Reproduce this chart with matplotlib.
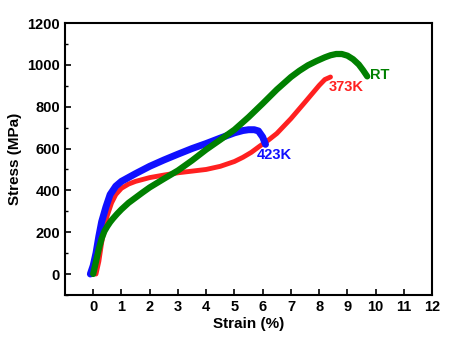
import matplotlib.pyplot as plt

plt.rcParams["font.family"] = ["Liberation Sans", "DejaVu Sans"]
plt.rcParams["font.weight"] = "bold"

# RT
rt_strain = [0.0, 0.1, 0.2, 0.3, 0.4, 0.5, 0.6, 0.7, 0.85, 1.0, 1.25, 1.5, 1.75, 2.0, 2.5,
             3.0, 3.5, 4.0, 4.5, 5.0, 5.5, 6.0, 6.5, 7.0, 7.3, 7.6, 7.9, 8.2, 8.4, 8.6,
             8.8, 9.0, 9.2, 9.4, 9.55, 9.7]
rt_stress = [0, 60, 120, 170, 205, 228, 248, 265, 288, 309, 340, 365, 390, 414, 455,
             495, 543, 595, 642, 690, 750, 815, 882, 942, 972, 998, 1018, 1036, 1046, 1052,
             1052, 1044, 1027, 1002, 975, 945]

# 373K
k373_strain = [0.1, 0.2, 0.3, 0.4, 0.5, 0.65, 0.8, 1.0, 1.25, 1.5, 2.0, 2.5, 3.0, 3.5, 4.0,
               4.5, 5.0, 5.3, 5.6, 5.9, 6.2, 6.5, 7.0, 7.5, 8.0, 8.2, 8.4]
k373_stress = [0, 60, 150, 220, 280, 340, 380, 410, 430, 443, 461, 473, 484, 492, 500,
               515, 538, 558, 582, 612, 640, 672, 743, 822, 902, 930, 942]

# 423K
k423_strain = [-0.1, 0.0, 0.1, 0.2, 0.3, 0.45, 0.6, 0.8, 1.0, 1.5, 2.0, 2.5, 3.0, 3.5,
               4.0, 4.5, 5.0, 5.3, 5.5, 5.7, 5.85, 6.0, 6.1]
k423_stress = [0, 40, 100, 180, 250, 320, 380, 420, 443, 480, 515, 545, 573, 600,
               624, 650, 675, 686, 690, 690, 684, 655, 620]

fig = plt.figure(figsize=(4.54, 3.39), dpi=100)
ax = fig.add_axes([0.143, 0.130, 0.809, 0.802])

ax.plot(k373_strain, k373_stress, color="#ff2020", lw=3.5, solid_capstyle="round",
        solid_joinstyle="round")
ax.plot(k423_strain, k423_stress, color="#1010ff", lw=5, solid_capstyle="round",
        solid_joinstyle="round")
ax.plot(rt_strain, rt_stress, color="#008000", lw=4.5, solid_capstyle="round",
        solid_joinstyle="round")

ax.text(9.8, 950, "RT", color="#008000", fontsize=10.5, fontweight="bold", va="center")
ax.text(8.35, 895, "373K", color="#ff2020", fontsize=10.5, fontweight="bold", va="center")
ax.text(5.8, 570, "423K", color="#1010ff", fontsize=10.5, fontweight="bold", va="center")

ax.set_xlim(-1, 12)
ax.set_ylim(-100, 1200)
ax.set_xticks(range(0, 13))
ax.set_yticks(range(0, 1201, 200))
ax.set_yticks(range(-100, 1201, 100), minor=True)
ax.tick_params(direction="in", labelsize=10.5, width=1.2, length=4)
ax.tick_params(which="minor", direction="in", width=1.0, length=2.5)
for lab in ax.get_xticklabels() + ax.get_yticklabels():
    lab.set_fontweight("bold")
for s in ax.spines.values():
    s.set_linewidth(1.5)

ax.set_xlabel("Strain (%)", fontsize=11, fontweight="bold", labelpad=2)
ax.set_ylabel("Stress (MPa)", fontsize=11, fontweight="bold", labelpad=4)

fig.savefig("out.png", dpi=100)
